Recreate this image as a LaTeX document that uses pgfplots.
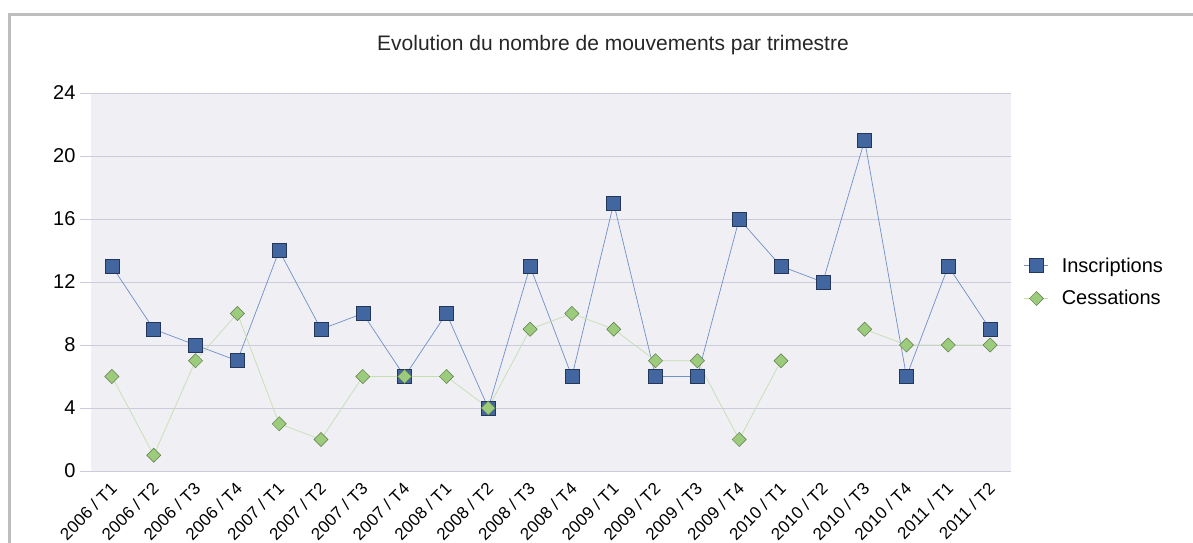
\documentclass[border=0pt]{standalone}
\usepackage{pgfplots}
\pgfplotsset{compat=1.18}
\usepackage{fontspec}
\setmainfont{Liberation Sans}
\definecolor{bgc}{HTML}{EFEFF4}
\definecolor{gridc}{HTML}{CBCBDD}
\definecolor{insc}{HTML}{4267A0}
\definecolor{insb}{HTML}{24375A}
\definecolor{insl}{HTML}{7090C8}
\definecolor{cesc}{HTML}{9CCB7C}
\definecolor{cesb}{HTML}{5E7A4C}
\definecolor{cesl}{HTML}{C6DFB0}
\definecolor{framec}{HTML}{BDBDBD}
\begin{document}
\begin{tikzpicture}[x=1pt,y=1pt]
\useasboundingbox (0,0) rectangle (1193,542);
\draw[framec, line width=3pt] (9.5,-5) -- (9.5,527.5) -- (1200,527.5);
\node[font=\fontsize{21}{24}\selectfont, text=black!85] at (613,497) {Evolution du nombre de mouvements par trimestre};
\begin{axis}[
  at={(91pt,71pt)}, anchor=south west,
  scale only axis, width=920pt, height=378pt,
  xmin=-0.5, xmax=21.5, ymin=0, ymax=24,
  ytick={0,4,...,24},
  xtick={0,...,21},
  xticklabels={2006 / T1,2006 / T2,2006 / T3,2006 / T4,2007 / T1,2007 / T2,2007 / T3,2007 / T4,2008 / T1,2008 / T2,2008 / T3,2008 / T4,2009 / T1,2009 / T2,2009 / T3,2009 / T4,2010 / T1,2010 / T2,2010 / T3,2010 / T4,2011 / T1,2011 / T2},
  x tick label style={rotate=45, anchor=east, font=\fontsize{17}{19}\selectfont, xshift=2pt, yshift=-4pt},
  y tick label style={font=\fontsize{20}{22}\selectfont},
  /pgf/number format/assume math mode=true,
  axis background/.style={fill=bgc},
  axis line style={draw=none},
  ymajorgrids, grid style={gridc, line width=1pt},
  ytick style={gridc, line width=1pt},
  tick pos=left, tick align=outside,
  major tick length=11pt,
  xtick style={draw=none},
  yticklabel style={xshift=-1pt},
  unbounded coords=jump,
  clip=false,
  legend style={at={(1.014,0.5)}, anchor=west, draw=none, fill=none,
    font=\fontsize{20}{23}\selectfont, row sep=13pt, inner sep=0pt,
    /tikz/every odd column/.append style={column sep=11pt}},
  legend cell align=left,
  legend image code/.code={\draw[mark repeat=2,mark phase=2,#1] plot coordinates {(0pt,0pt)(12pt,0pt)(24pt,0pt)};},
]
\addplot[insl, line width=0.7pt, mark=square*, mark size=7pt,
  mark options={fill=insc, draw=insb, line width=0.6pt}]
  coordinates {(0,13)(1,9)(2,8)(3,7)(4,14)(5,9)(6,10)(7,6)(8,10)(9,4)(10,13)(11,6)(12,17)(13,6)(14,6)(15,16)(16,13)(17,12)(18,21)(19,6)(20,13)(21,9)};
\addlegendentry{Inscriptions}
\addplot[cesl, line width=0.7pt, mark=square*, mark size=5pt,
  mark options={rotate=45, fill=cesc, draw=cesb, line width=0.5pt}]
  coordinates {(0,6)(1,1)(2,7)(3,10)(4,3)(5,2)(6,6)(7,6)(8,6)(9,4)(10,9)(11,10)(12,9)(13,7)(14,7)(15,2)(16,7)(17,nan)(18,9)(19,8)(20,8)(21,8)};
\addlegendentry{Cessations}
\end{axis}
\end{tikzpicture}
\end{document}
